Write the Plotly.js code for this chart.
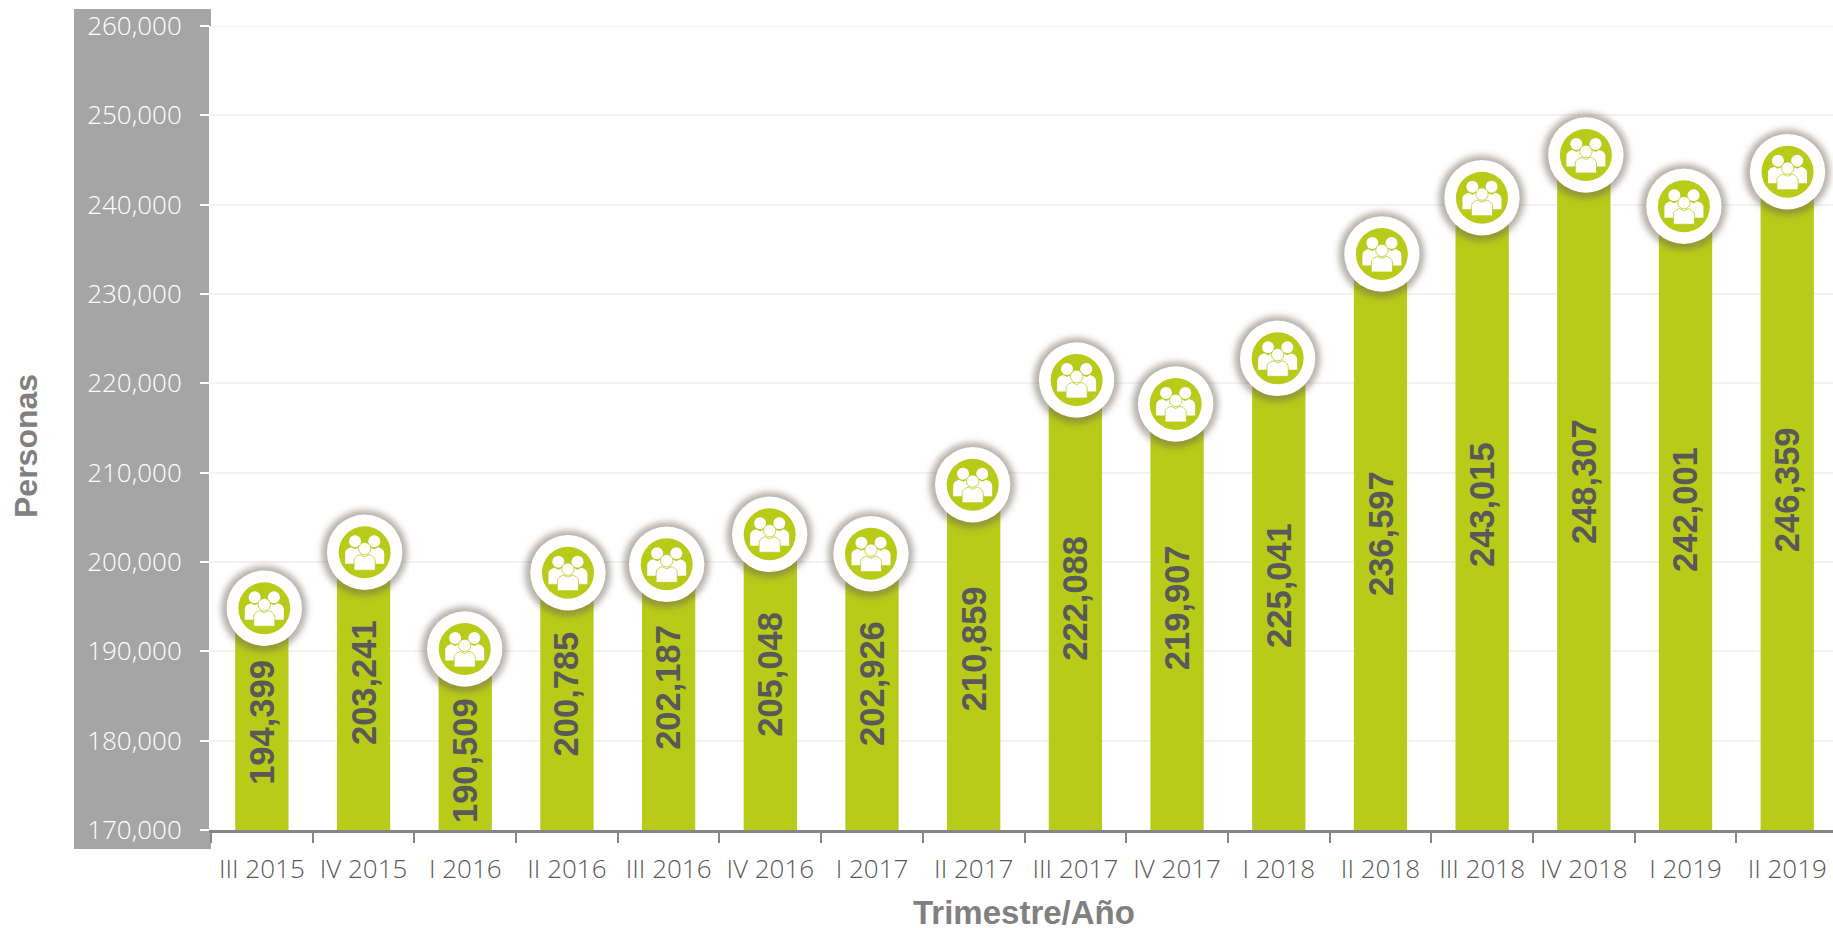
<!DOCTYPE html>
<html>
<head>
<meta charset="utf-8">
<script src="https://cdn.plot.ly/plotly-3.0.1.min.js"></script>
<style>html,body{margin:0;padding:0;background:#fff;overflow:hidden}</style>
</head>
<body>
<div id="chart" style="width:1833px;height:928px"></div>
<script>
const categories = ["III 2015","IV 2015","I 2016","II 2016","III 2016","IV 2016","I 2017","II 2017","III 2017","IV 2017","I 2018","II 2018","III 2018","IV 2018","I 2019","II 2019"];
const personas = [194399,203241,190509,200785,202187,205048,202926,210859,222088,219907,225041,236597,243015,248307,242001,246359];
// Where each round badge sits in the picture, read on the two axes (they are hand-placed, not at the bar tops)
const badgeCategory = [0.024,1.011,1.995,3.010,3.981,4.994,5.990,6.990,8.012,8.986,9.989,11.014,11.998,13.020,13.984,15.003];
const badgeValue = [194820,201090,190260,198800,199740,203100,200930,208650,220370,217690,222800,234480,240780,245560,239820,243690];
// The label of the I 2016 bar sits lower than the middle of its bar, to clear the badge
const labelShift = [0,0,-2400,0,0,0,0,0,0,0,0,0,0,0,0,0];
const yTicks = [170000,180000,190000,200000,210000,220000,230000,240000,250000,260000];

const W = 1833, H = 928, L = 211, T = 26, B = 98;
const plotW = W - L, plotH = H - T - B;
const xRange = [-0.5, 15.45], yRange = [170000, 260000];
const GREEN = "#b8cb18";

const badgeSvg = `<svg xmlns="http://www.w3.org/2000/svg" width="110" height="110" viewBox="-55 -55 110 110">
<defs>
<filter id="s" x="-30%" y="-30%" width="160%" height="160%"><feGaussianBlur stdDeviation="3"/></filter>
<filter id="i" x="-10%" y="-10%" width="120%" height="120%"><feGaussianBlur stdDeviation="0.4"/></filter>
</defs>
<circle cx="-0.3" cy="0.5" r="43" fill="#6e6455" fill-opacity="0.5" filter="url(#s)"/>
<circle r="37.7" fill="#fff"/>
<circle r="26" fill="${GREEN}"/>
<g fill="#fff" filter="url(#i)">
<circle cx="-9.6" cy="-11" r="6"/><circle cx="9.6" cy="-11" r="6"/>
<path d="M-19.5 11.5V1C-19.5 -2 -17 -4 -13.5 -5L-9.6 -3L-5.7 -5H5.7L9.6 -3L13.5 -5C17 -4 19.5 -2 19.5 1V11.5Z"/>
</g>
<g fill="#fff" stroke="${GREEN}" stroke-width="0.8" filter="url(#i)">
<circle cx="0" cy="-3.6" r="6.2"/>
<path d="M-10.6 18V9C-10.6 5.4 -8 3.4 -4.4 2.4L0 4.6L4.4 2.4C8 3.4 10.6 5.4 10.6 9V18Z"/>
</g>
</svg>`;
const badgeUri = "data:image/svg+xml;charset=utf-8," + encodeURIComponent(badgeSvg);

const pxPerCat = plotW / (xRange[1] - xRange[0]);
const pxPerVal = plotH / (yRange[1] - yRange[0]);

const images = badgeCategory.map((c, i) => ({
  source: badgeUri, xref: "x", yref: "y", x: c, y: badgeValue[i],
  sizex: 110 / pxPerCat, sizey: 110 / pxPerVal,
  xanchor: "center", yanchor: "middle", sizing: "stretch", layer: "above"
}));

// Value labels stand at the middle of each bar, turned a quarter turn
const barLabels = personas.map((v, i) => ({
  text: v.toLocaleString("en-US"), xref: "x", yref: "y", x: i,
  y: (v + yRange[0]) / 2 + labelShift[i], yshift: -1,
  showarrow: false, textangle: -90, xanchor: "center", yanchor: "middle",
  font: {family: "Liberation Sans, Arial, sans-serif", size: 34.5, weight: 700, color: "#595959"}
}));

const trace = {
  type: "bar", x: categories, y: personas,
  marker: {color: GREEN, line: {width: 0}},
  hoverinfo: "x+y"
};

const layout = {
  width: W, height: H, showlegend: false, paper_bgcolor: "#fff", plot_bgcolor: "#fff",
  margin: {l: L, r: 0, t: T, b: B, pad: 0},
  bargap: 0.476, images,
  font: {family: "Open Sans, sans-serif"},
  xaxis: {
    type: "category", categoryorder: "array", categoryarray: categories, range: xRange,
    tickson: "boundaries", ticks: "outside", ticklen: 10, tickwidth: 2, tickcolor: "#868686",
    showline: true, linecolor: "#868686", linewidth: 3, showgrid: false, zeroline: false,
    tickangle: 0, ticklabelstandoff: 14,
    tickfont: {family: "Open Sans, sans-serif", size: 26, weight: 300, color: "#595959"}
  },
  yaxis: {
    range: yRange, tickmode: "array", tickvals: yTicks, tickformat: ",",
    ticks: "outside", ticklen: 9, tickwidth: 2, tickcolor: "#ffffff",
    showline: true, linecolor: "#ffffff", linewidth: 2,
    showgrid: true, gridcolor: "#f2f2f2", gridwidth: 2, zeroline: false,
    ticklabelstandoff: 13,
    tickfont: {family: "Open Sans, sans-serif", size: 26, weight: 300, color: "#ffffff"}
  },
  annotations: barLabels.concat([{
    text: "Personas", xref: "paper", yref: "paper", showarrow: false, textangle: -90,
    x: (26 - L) / plotW, y: 1 - (446 - T) / plotH, xanchor: "center", yanchor: "middle",
    font: {family: "Liberation Sans, Arial, sans-serif", size: 32, weight: 700, color: "#808080"}
  }, {
    text: "Trimestre/Año", xref: "paper", yref: "paper", showarrow: false,
    x: (1024 - L) / plotW, y: 1 - (912 - T) / plotH, xanchor: "center", yanchor: "middle",
    font: {family: "Liberation Sans, Arial, sans-serif", size: 33, weight: 700, color: "#808080"}
  }]),
  shapes: [{
    type: "rect", xref: "paper", yref: "paper", layer: "below",
    x0: (74 - L) / plotW, x1: 0, y0: (H - B - 849) / plotH, y1: 1 + (T - 9) / plotH,
    fillcolor: "#a5a5a5", line: {width: 0}
  }, {
    type: "line", xref: "x domain", yref: "y", layer: "below",
    x0: 0, x1: 1, y0: 260000, y1: 260000, line: {color: "#f2f2f2", width: 2}
  }]
};

Plotly.newPlot("chart", [trace], layout, {displayModeBar: false, staticPlot: true});
</script>
</body>
</html>
